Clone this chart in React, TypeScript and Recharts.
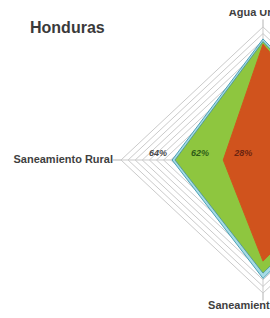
import React from 'react';
import { RadarChart, Radar, PolarGrid, PolarAngleAxis, PolarRadiusAxis, LabelList } from 'recharts';

const categories = ['Agua Urbana', 'Agua Rural', 'Saneamiento Urbano', 'Saneamiento Rural'];
const serieTeal = [91, 84, 89, 64];
const serieGreen = [89, 80, 85, 62];
const serieOrange = [87, 70, 76, 28];
const labelIndex = 3;

const data = categories.map((c, i) => ({
  cat: c,
  teal: serieTeal[i],
  green: serieGreen[i],
  orange: serieOrange[i],
}));

const FONT = '"Liberation Sans", Arial, sans-serif';

const AngleTick = (props: any) => {
  const { x, y, payload, textAnchor } = props;
  const v = payload.value;
  let dy = 0;
  if (v === 'Agua Urbana') dy = -4;
  else if (v === 'Saneamiento Urbano') dy = 8.5;
  else dy = 3.5;
  return (
    <text x={x} y={y} dy={dy} textAnchor={textAnchor} fontFamily={FONT} fontWeight="bold" fontSize={11} fill="#3f3f3f">
      {v}
    </text>
  );
};

const makeLabel = (dx: number, color: string) => (props: any) => {
  const { x, y, value, index } = props;
  if (index !== labelIndex) return null;
  return (
    <text x={x + dx} y={y} dy={-4.5} textAnchor="middle" fontFamily={FONT} fontWeight="bold" fontStyle="italic" fontSize={9} fill={color}>
      {value}%
    </text>
  );
};

export default function App() {
  return (
    <div style={{ position: 'absolute', left: 0, top: 0, width: 270, height: 318, overflow: 'hidden', background: '#fff' }}>
      <div style={{ position: 'absolute', left: 30, top: 18, fontFamily: FONT, fontWeight: 'bold', fontSize: 16, color: '#3a3a3a', lineHeight: '20px' }}>
        Honduras
      </div>
      <div style={{ position: 'absolute', left: 0, top: 0, transform: 'scaleY(0.937)', transformOrigin: '0 160px' }}>
        <RadarChart width={540} height={340} data={data} cx={263} cy={160} outerRadius={142} margin={{ top: 0, right: 0, bottom: 0, left: 0 }}>
          <PolarGrid gridType="polygon" stroke="#c8c8c8" strokeWidth={1} />
          <PolarAngleAxis dataKey="cat" tick={AngleTick} tickLine={{ stroke: '#b0b0b0' }} axisLine={false} tickSize={8} />
          <PolarRadiusAxis domain={[0, 100]} tickCount={21} tick={false} axisLine={false} />
          <Radar dataKey="teal" fill="#a6dbe5" fillOpacity={1} stroke="#4a9fb5" strokeWidth={1} isAnimationActive={false}>
            <LabelList dataKey="teal" content={makeLabel(-14, '#474747')} />
          </Radar>
          <Radar dataKey="green" fill="#8ec63f" fillOpacity={1} stroke="#3f8f9a" strokeWidth={0.8} isAnimationActive={false}>
            <LabelList dataKey="green" content={makeLabel(25, '#2f5c17')} />
          </Radar>
          <Radar dataKey="orange" fill="#d0531d" fillOpacity={1} stroke="#d0531d" strokeWidth={1} isAnimationActive={false}>
            <LabelList dataKey="orange" content={makeLabel(20, '#6b2410')} />
          </Radar>
        </RadarChart>
      </div>
    </div>
  );
}
